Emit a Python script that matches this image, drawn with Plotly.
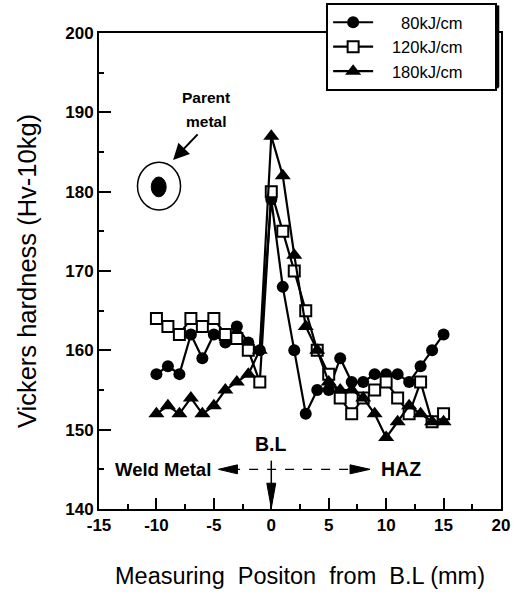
import plotly.graph_objects as go

# ---------------- data ----------------
positions = list(range(-10, 16))
hv_80 = [157, 158, 157, 162, 159, 162, 161, 163, 161, 160, 179, 168, 160, 152,
         155, 155, 159, 156, 156, 157, 157, 157, 156, 158, 160, 162]
hv_120 = [164, 163, 162, 164, 163, 164, 162, 161.5, 160, 156, 180, 175, 170, 165,
          160, 157, 154, 152, 154, 155, 156, 154, 152, 156, 151, 152]
hv_180 = [152, 153, 152, 154, 152, 153, 155, 156, 157, 160, 187, 182, 172, 163,
          160, 156, 155, 155, 154, 152, 149, 151, 153, 152, 151, 151]
series_names = ["80kJ/cm", "120kJ/cm", "180kJ/cm"]
parent_x = [-9.8]
parent_y = [180.6]

x_ticks = [-15, -10, -5, 0, 5, 10, 15, 20]
y_ticks = [140, 150, 160, 170, 180, 190, 200]

FONT = "Liberation Sans, Arial, Helvetica, sans-serif"
NB = "\u00a0"

fig = go.Figure()
marker_styles = [
    dict(symbol="circle", size=12, color="black", line=dict(width=0)),
    dict(symbol="square", size=11, color="white", line=dict(color="black", width=2)),
    dict(symbol="triangle-up", size=14, color="black", line=dict(width=0)),
]
for name, vals, mk in zip(series_names, [hv_80, hv_120, hv_180], marker_styles):
    lead = NB * (5 if len(name) < 8 else 3)
    fig.add_trace(go.Scatter(
        x=positions, y=vals, name=lead + name + NB * 6, mode="lines+markers",
        line=dict(color="black", width=2.2), marker=mk,
    ))

# parent metal point (filled ellipse) and its surrounding ring
px, py = parent_x[0], parent_y[0]
fig.add_shape(type="circle", xref="x", yref="y",
              x0=px - 0.65, x1=px + 0.65, y0=py - 1.25, y1=py + 1.25,
              fillcolor="black", line=dict(color="black", width=1))
fig.add_shape(type="circle", xref="x", yref="y",
              x0=px - 1.85, x1=px + 1.9, y0=py - 2.9, y1=py + 3.1,
              line=dict(color="black", width=1.5))

# dashed Weld Metal <-> HAZ line, B.L marker line
fig.add_shape(type="line", xref="x", yref="y", x0=-3.5, x1=7.5, y0=145, y1=145,
              line=dict(color="black", width=1.2, dash="dash"))
fig.add_shape(type="line", xref="x", yref="y", x0=0, x1=0, y0=142, y1=146.1,
              line=dict(color="black", width=1.5))

# narrow filled arrowheads (pixel-sized, anchored in data space)
def head(xa, ya, path):
    fig.add_shape(type="path", xref="x", yref="y", xsizemode="pixel", ysizemode="pixel",
                  xanchor=xa, yanchor=ya, path=path, fillcolor="black",
                  line=dict(color="black", width=1))

head(0, 140.1, "M0,0 L-4.5,25 L4.5,25 Z")          # B.L arrow, pointing down
head(-4.6, 145, "M0,0 L19,4.5 L19,-4.5 Z")          # left arrow
head(8.6, 145, "M0,0 L-20,4.5 L-20,-4.5 Z")         # right arrow

# legend drop-shadow (thicker right / bottom edges)
fig.add_shape(type="line", xref="paper", yref="paper", x0=0.992, x1=0.992, y0=0.886, y1=1.058,
              line=dict(color="black", width=3))
fig.add_shape(type="line", xref="paper", yref="paper", x0=0.57, x1=0.994, y0=0.887, y1=0.887,
              line=dict(color="black", width=3))

annotations = [
    dict(x=-5.05, y=145, text="Weld Metal", xanchor="right", yanchor="middle",
         showarrow=False, font=dict(size=18.5, weight="bold")),
    dict(x=9.4, y=145, text="HAZ", xanchor="left", yanchor="middle",
         showarrow=False, font=dict(size=19.5, weight="bold")),
    dict(x=0, y=148.2, text="B.L", xanchor="center", yanchor="middle",
         showarrow=False, font=dict(size=19.5, weight="bold")),
    dict(x=-5.67, y=191.9, text="Parent", xanchor="center", yanchor="middle",
         showarrow=False, font=dict(size=15.5, weight="bold")),
    dict(x=-5.67, y=188.9, text="metal", xanchor="center", yanchor="middle",
         showarrow=False, font=dict(size=15.5, weight="bold")),
    dict(x=-8.55, y=184.0, ax=26, ay=-27, text="", showarrow=True,
         arrowhead=2, arrowsize=1.6, arrowwidth=2, arrowcolor="black"),
]

fig.update_layout(
    width=517, height=593,
    margin=dict(l=99, r=16, t=33, b=84, autoexpand=False),
    paper_bgcolor="white", plot_bgcolor="white",
    font=dict(family=FONT, color="black"),
    showlegend=True,
    legend=dict(x=0.565, y=1.063, xanchor="left", yanchor="top",
                bgcolor="white", bordercolor="black", borderwidth=2,
                font=dict(size=16.5), tracegroupgap=0, itemwidth=40),
    annotations=annotations,
    xaxis=dict(range=[-15, 20], tickvals=x_ticks, ticktext=[str(v) for v in x_ticks],
               ticks="inside", ticklen=11, tickwidth=1.5, tickcolor="black",
               showline=True, linecolor="black", linewidth=2, mirror=True,
               showgrid=False, zeroline=False,
               tickfont=dict(size=17, weight="bold"),
               minor=dict(dtick=2.5, ticks="inside", ticklen=5, tickcolor="black", tickwidth=1.5),
               title=dict(text="Measuring  Positon  from  B.L (mm)", font=dict(size=23.5), standoff=33)),
    yaxis=dict(range=[140, 200], tickvals=y_ticks, ticktext=[str(v) for v in y_ticks],
               ticks="inside", ticklen=12, tickwidth=1.5, tickcolor="black",
               showline=True, linecolor="black", linewidth=2, mirror=True,
               showgrid=False, zeroline=False,
               tickfont=dict(size=17, weight="bold"),
               minor=dict(dtick=5, ticks="inside", ticklen=5, tickcolor="black", tickwidth=1.5),
               title=dict(text="Vickers hardness (Hv-10kg)", font=dict(size=25.5), standoff=21)),
)

fig.write_html("out.html")
